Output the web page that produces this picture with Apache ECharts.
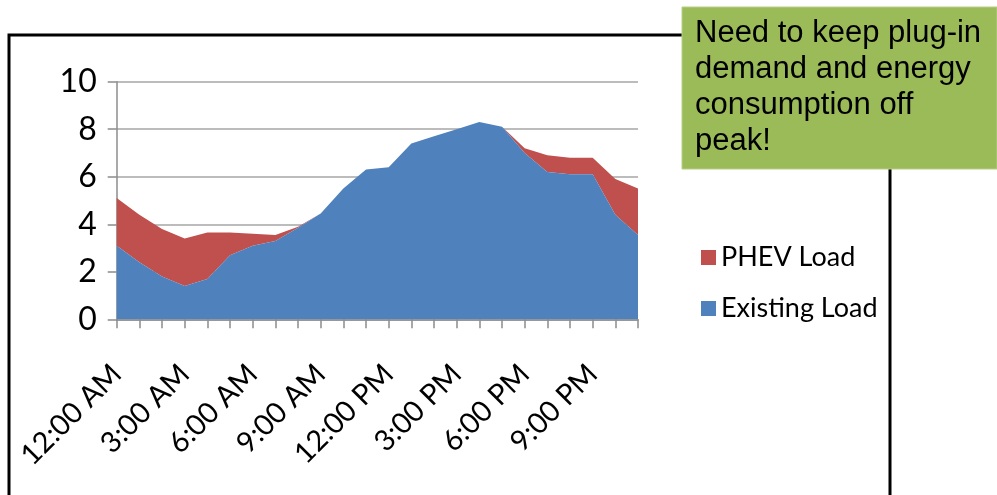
<!DOCTYPE html>
<html>
<head>
<meta charset="utf-8">
<script src="https://cdn.jsdelivr.net/npm/echarts@6/dist/echarts.min.js"></script>
<style>html,body{margin:0;padding:0;background:#fff}#c{width:997px;height:495px}</style>
</head>
<body>
<div id="c"></div>
<script>
const hours = ["12:00 AM","1:00 AM","2:00 AM","3:00 AM","4:00 AM","5:00 AM","6:00 AM","7:00 AM","8:00 AM","9:00 AM","10:00 AM","11:00 AM",
  "12:00 PM","1:00 PM","2:00 PM","3:00 PM","4:00 PM","5:00 PM","6:00 PM","7:00 PM","8:00 PM","9:00 PM","10:00 PM","11:00 PM"];
const existingLoad = [3.1,2.4,1.8,1.4,1.7,2.7,3.1,3.3,3.85,4.45,5.5,6.3,6.4,7.4,7.7,8.0,8.3,8.1,7.0,6.2,6.1,6.1,4.4,3.55];
const phevLoad = [2.0,2.0,2.0,2.0,1.95,0.95,0.5,0.25,0.05,0,0,0,0,0,0,0,0,0,0.2,0.7,0.7,0.7,1.5,1.95];
const yTicks = {min:0, max:10, interval:2};
const noteLines = ["Need to keep plug-in","demand and energy","consumption off","peak!"];

const chart = echarts.init(document.getElementById('c'));
chart.setOption({
  animation:false,
  backgroundColor:'#fff',
  grid:{left:116.7, right:359, top:81.7, bottom:175.7},
  legend:{
    data:['PHEV Load','Existing Load'],
    orient:'vertical', left:696, top:239,
    itemWidth:15, itemHeight:15, itemGap:24,
    icon:'rect',
    textStyle:{fontFamily:'Lato', fontSize:27, color:'#000'}
  },
  xAxis:{
    type:'category', data:hours, boundaryGap:false,
    axisLine:{lineStyle:{color:'#8c8c8c', width:1.5}},
    axisTick:{interval:0, length:9, lineStyle:{color:'#8c8c8c', width:1.5}},
    axisLabel:{interval:2, rotate:45, margin:50, fontFamily:'Lato', fontSize:29, color:'#000'},
    splitLine:{show:false}
  },
  yAxis:{
    type:'value', min:yTicks.min, max:yTicks.max, interval:yTicks.interval,
    axisLine:{show:true, lineStyle:{color:'#8c8c8c', width:1.5}},
    axisTick:{show:true, length:9, lineStyle:{color:'#8c8c8c', width:1.5}},
    axisLabel:{margin:20, fontFamily:'Lato', fontSize:32, color:'#000'},
    splitLine:{lineStyle:{color:'#a6a6a6', width:1.5}}
  },
  series:[
    {name:'Existing Load', type:'line', stack:'load', data:existingLoad, showSymbol:false,
     lineStyle:{width:0}, areaStyle:{color:'#4F81BD', opacity:1}, itemStyle:{color:'#4F81BD'}, z:3},
    {name:'PHEV Load', type:'line', stack:'load', data:phevLoad, showSymbol:false,
     lineStyle:{width:0}, areaStyle:{color:'#C0504D', opacity:1}, itemStyle:{color:'#C0504D'}, z:2}
  ],
  graphic:[
    {type:'rect', shape:{x:9, y:35, width:881, height:480}, style:{fill:'none', stroke:'#000', lineWidth:3}, z:100},
    {type:'rect', shape:{x:682, y:7, width:315, height:162}, style:{fill:'#9BBB59', stroke:'#b5cf85', lineWidth:1}, z:101},
    {type:'text', left:695, top:15, z:102,
     style:{text:noteLines.join('\n'), font:'31px "Liberation Sans"', fill:'#000', lineHeight:36}}
  ]
});
</script>
</body>
</html>
